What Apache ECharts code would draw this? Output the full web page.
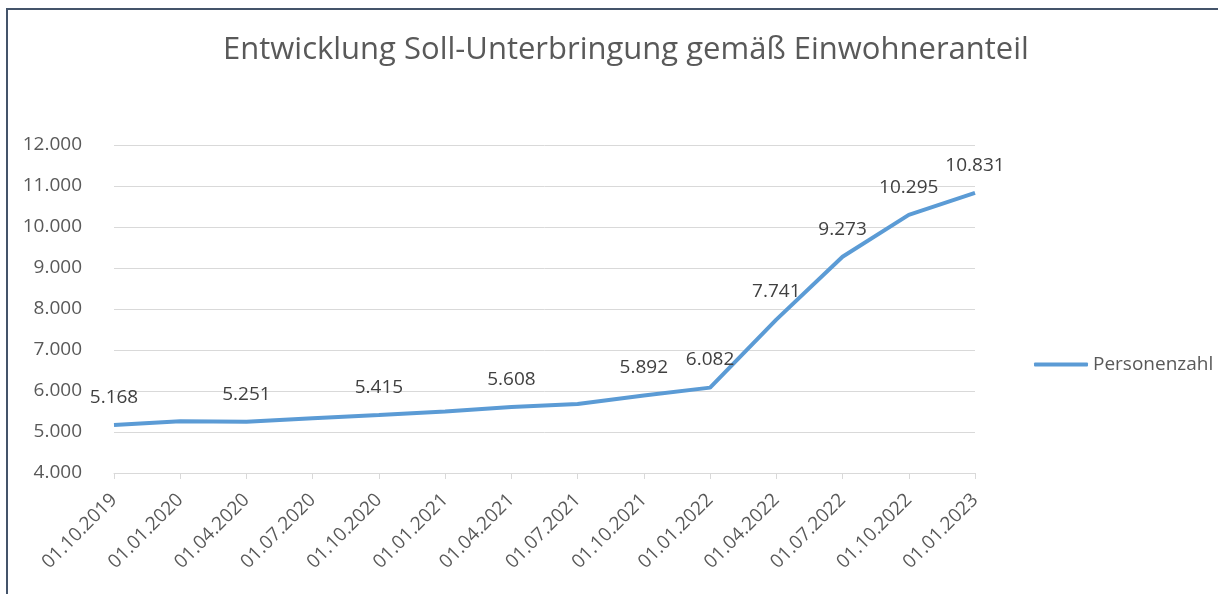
<!DOCTYPE html>
<html><head><meta charset="utf-8">
<script src="https://cdn.jsdelivr.net/npm/echarts@6/dist/echarts.min.js"></script>
<style>html,body{margin:0;padding:0;background:#fff}#c{width:1218px;height:594px}</style>
</head><body><div id="c"></div>
<script>
const titleText = 'Entwicklung Soll-Unterbringung gemäß Einwohneranteil';
const seriesName = 'Personenzahl';
const categories = ['01.10.2019','01.01.2020','01.04.2020','01.07.2020','01.10.2020','01.01.2021','01.04.2021','01.07.2021','01.10.2021','01.01.2022','01.04.2022','01.07.2022','01.10.2022','01.01.2023'];
const values = [5168, 5262, 5251, 5338, 5415, 5500, 5608, 5683, 5892, 6082, 7741, 9273, 10295, 10831];
const showLabel = [true, false, true, false, true, false, true, false, true, true, true, true, true, true];
const yMin = 4000, yMax = 12000, yStep = 1000;

function fmt(v){ return String(Math.round(v)).replace(/\B(?=(\d{3})+(?!\d))/g, '.'); }
const FONT = 'Open Sans';
const chart = echarts.init(document.getElementById('c'), null, {renderer:'canvas'});
chart.setOption({
  backgroundColor:'#ffffff',
  animation:false,
  graphic:[{type:'rect', shape:{x:7,y:9,width:1230,height:600}, style:{fill:'none', stroke:'#44546a', lineWidth:2}, z:-1}],
  title:{text:titleText, left:218, top:30, textStyle:{fontFamily:FONT, fontSize:31, fontWeight:'normal', color:'#595959'}},
  legend:{data:[{name:seriesName, icon:'roundRect'}], left:1029, top:350, itemWidth:54, itemHeight:4, itemGap:4,
    textStyle:{fontFamily:FONT, fontSize:19, color:'#595959', padding:[0,0,0,0]}},
  grid:{left:114, right:243, top:145, bottom:121, containLabel:false},
  xAxis:{type:'category', data:categories, boundaryGap:false,
    axisLine:{lineStyle:{color:'#d9d9d9', width:1}},
    axisTick:{show:true, lineStyle:{color:'#d9d9d9'}, length:6},
    axisLabel:{rotate:45, margin:24, fontFamily:FONT, fontSize:19, color:'#595959', interval:0}},
  yAxis:{type:'value', min:yMin, max:yMax, interval:yStep,
    axisLine:{show:false}, axisTick:{show:false},
    splitLine:{lineStyle:{color:'#d9d9d9', width:1}},
    axisLabel:{margin:32, fontFamily:FONT, fontSize:19, color:'#595959', formatter:fmt}},
  series:[{name:seriesName, type:'line', symbol:'circle', symbolSize:0.1, showSymbol:true, smooth:false,
    lineStyle:{color:'#5b9bd5', width:4}, itemStyle:{color:'#5b9bd5'},
    data: values.map((v,i)=>({value:v, label:{show:showLabel[i]}})),
    label:{position:'top', distance:18, fontFamily:FONT, fontSize:19, color:'#404040', formatter:p=>fmt(p.value)}}]
});
</script></body></html>
